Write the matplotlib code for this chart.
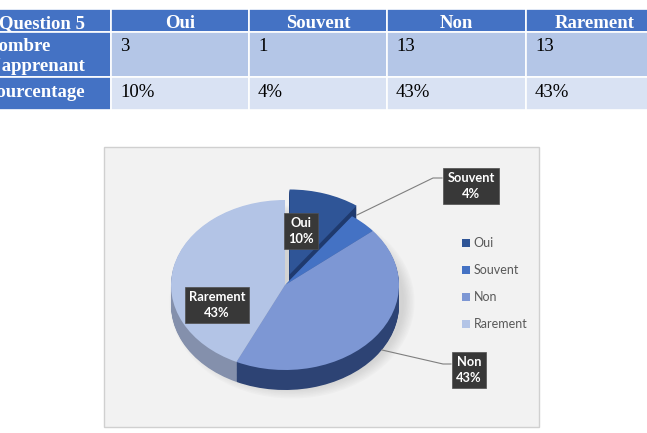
import matplotlib.pyplot as plt
from matplotlib.patches import Rectangle, Ellipse

# table data
question = 'Question 5'
answers = ['Oui', 'Souvent', 'Non', 'Rarement']
row_labels = ["Nombre\nd'apprenant", 'Pourcentage']
counts = ['3', '1', '13', '13']
percents = ['10%', '4%', '43%', '43%']

# pie data (percent of learners)
pie_values = [10, 4, 43, 43]
explode = [0.13, 0, 0, 0]
top_colors = ['#2F5597', '#4472C4', '#7D97D4', '#B3C4E6']
side_colors = ['#1F3A6E', '#2C4F8F', '#2D4374', '#8490AC']

W, H = 647, 433
fig = plt.figure(figsize=(W / 100, H / 100), dpi=100)

# background axes in pixel coords: table + chart frame
ax = fig.add_axes([0, 0, 1, 1])
ax.set_xlim(0, W)
ax.set_ylim(H, 0)
ax.axis('off')

col_edges = [-27, 111, 249, 387, 526, 664]
row_edges = [9, 32, 77, 110]
baselines = [28, 51, 97]
header_blue = '#4472C4'
row_fill = ['#B4C6E7', '#D9E2F3']
serif = 'Liberation Serif'
fs = 13.5

for r in range(3):
    for c in range(5):
        x0, x1 = col_edges[c], col_edges[c + 1]
        y0, y1 = row_edges[r], row_edges[r + 1]
        fc = header_blue if (r == 0 or c == 0) else row_fill[r - 1]
        ax.add_patch(Rectangle((x0, y0), x1 - x0, y1 - y0, facecolor=fc,
                               edgecolor='white', lw=1.2))

# header row
headers = [question] + answers
for c, h in enumerate(headers):
    xc = (col_edges[c] + col_edges[c + 1]) / 2
    ax.text(xc, baselines[0], h, ha='center', va='baseline',
            color='white', fontweight='bold', family=serif, fontsize=fs)

# body rows
body = [counts, percents]
for r, lab in enumerate(row_labels):
    yb = baselines[r + 1]
    for i, line in enumerate(lab.split('\n')):
        ax.text(col_edges[0] + 13, yb + 20 * i, line, ha='left', va='baseline',
                color='white', fontweight='bold', family=serif, fontsize=fs)
    for c, v in enumerate(body[r]):
        ax.text(col_edges[c + 1] + 9, yb, v, ha='left', va='baseline', color='black',
                family=serif, fontsize=fs)

# chart frame
ax.add_patch(Rectangle((104, 147), 435, 280, facecolor='#F2F2F2',
                       edgecolor='#D0D0D0', lw=1))

# soft shadow under the pie
for i in range(8):
    ax.add_patch(Ellipse((292, 302), 2 * (112 + i * 1.5), 2 * (86 + i * 1.5),
                         facecolor='#A0A0A0', edgecolor='none', alpha=0.05))

# pie axes (squashed to look tilted)
cx, cy, rx, ry = 285, 285, 114, 85
left, right, top, bottom = 160, 410, 180, 400
ax1 = fig.add_axes([left / W, (H - bottom) / H, (right - left) / W, (bottom - top) / H])
ax1.set_zorder(2)

depth = 20 / ry
n = 24
for k in range(n, 0, -1):
    ax1.pie(pie_values, center=(0, -depth * k / n), colors=side_colors, startangle=90,
            counterclock=False, explode=explode, wedgeprops=dict(linewidth=0))
wedges, _ = ax1.pie(pie_values, colors=top_colors, startangle=90, counterclock=False,
                    explode=explode, wedgeprops=dict(linewidth=0))
ax1.set_aspect('auto')
ax1.set_xlim((left - cx) / rx, (right - cx) / rx)
ax1.set_ylim((cy - bottom) / ry, (cy - top) / ry)
ax1.axis('off')
ax1.patch.set_alpha(0)

# legend
leg = fig.legend(wedges, answers, loc='upper left', bbox_to_anchor=(451 / W, 1 - 226 / H),
                 frameon=False, prop={'family': 'Lato', 'size': 9}, labelcolor='#595959',
                 handlelength=0.65, handleheight=0.65, handletextpad=0.25, labelspacing=1.2)

# data labels on top
ax2 = fig.add_axes([0, 0, 1, 1])
ax2.set_zorder(3)
ax2.set_xlim(0, W)
ax2.set_ylim(H, 0)
ax2.axis('off')
ax2.patch.set_alpha(0)

ax2.plot([442, 433, 357], [178, 178, 215], color='#7F7F7F', lw=0.8)
ax2.plot([382, 443, 451], [350, 364, 364], color='#7F7F7F', lw=0.8)

label_pos = [(301, 231), (471, 186), (469, 370), (217, 305)]
for (x, y), a, p in zip(label_pos, answers, percents):
    ax2.text(x, y, a + '\n' + p, ha='center', va='center', color='white',
             fontweight='bold', family='Lato', fontsize=9.3, linespacing=1.35,
             bbox=dict(boxstyle='square,pad=0.3', fc='#383838', ec='#505050', lw=0.5))

fig.savefig('out.png', dpi=100)
